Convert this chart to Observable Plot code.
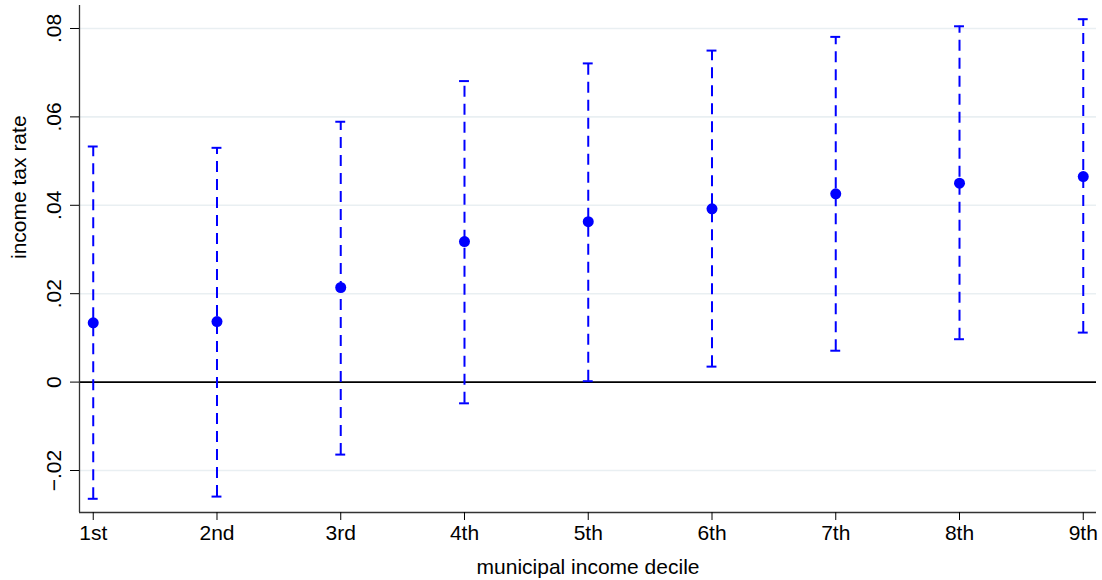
<!DOCTYPE html>
<html><head><meta charset="utf-8">
<script src="https://cdn.jsdelivr.net/npm/d3@7"></script>
<script src="https://cdn.jsdelivr.net/npm/@observablehq/plot@0.6"></script>
<style>body{margin:0;background:#fff}</style>
</head><body><div id="chart"></div>
<script>
const deciles = ["1st","2nd","3rd","4th","5th","6th","7th","8th","9th"];
const estimates = [0.0134,0.0137,0.0214,0.0318,0.0363,0.0392,0.0426,0.0450,0.0465];
const upper = [0.0533,0.0530,0.0589,0.0681,0.0721,0.0750,0.0781,0.0805,0.0821];
const lower = [-0.0264,-0.0259,-0.0164,-0.0048,0.0002,0.0035,0.0071,0.0097,0.0112];
const yTicks = [-0.02,0,0.02,0.04,0.06,0.08];
const yTickLabels = ["\u2212.02","0",".02",".04",".06",".08"];
const xTitle = "municipal income decile";
const yTitle = "income tax rate";

const rows = deciles.map((d,i)=>({pos:i+1, label:d, est:estimates[i], lo:lower[i], hi:upper[i]}));
const xDomain = [0.889, 9.107];
const yDomain = [-0.0295, 0.0852];
const blue = "#0000ff";
const capHalf = 0.04;
const font = "'Liberation Sans', Arial, Helvetica, sans-serif";

const chart = Plot.plot({
  width: 1102, height: 580,
  marginLeft: 79, marginRight: 6, marginTop: 5, marginBottom: 68,
  style: {fontFamily: font, fontSize: "21px", color: "#000", background: "#fff"},
  x: {type: "linear", domain: xDomain, axis: null},
  y: {domain: yDomain, axis: null},
  marks: [
    Plot.ruleY(yTicks.filter(t => t !== 0), {stroke: "#e9eff2", strokeWidth: 1.6}),
    Plot.ruleY([0], {stroke: "#000", strokeWidth: 1.8}),
    Plot.ruleX(rows, {x: "pos", y1: "lo", y2: "hi", stroke: blue, strokeWidth: 2, strokeDasharray: "11,7"}),
    Plot.ruleY(rows, {y: "hi", x1: d => d.pos - capHalf, x2: d => d.pos + capHalf, stroke: blue, strokeWidth: 2}),
    Plot.ruleY(rows, {y: "lo", x1: d => d.pos - capHalf, x2: d => d.pos + capHalf, stroke: blue, strokeWidth: 2}),
    Plot.dot(rows, {x: "pos", y: "est", r: 5.5, fill: blue, stroke: null}),
    Plot.ruleX([xDomain[0]], {stroke: "#333", strokeWidth: 1.3}),
    Plot.ruleY([yDomain[0]], {stroke: "#333", strokeWidth: 1.3}),
    Plot.axisX({ticks: rows.map(d => d.pos), tickFormat: i => deciles[i - 1], tickSize: 8, tickPadding: 5, label: null, fontSize: 21}),
    Plot.axisY({ticks: yTicks, tickSize: 9, tickFormat: () => "", label: null}),
    Plot.text(yTicks, {x: () => xDomain[0], y: d => d, text: (d, i) => yTickLabels[i], rotate: -90, textAnchor: "middle", lineAnchor: "bottom", dx: -19, fontSize: 21}),
    Plot.text([xTitle], {frameAnchor: "bottom", text: d => d, lineAnchor: "bottom", dy: 61, fontSize: 21}),
    Plot.text([yTitle], {frameAnchor: "left", text: d => d, rotate: -90, lineAnchor: "bottom", dx: -54, fontSize: 21})
  ]
});
document.getElementById("chart").appendChild(chart);
</script>
</body></html>
